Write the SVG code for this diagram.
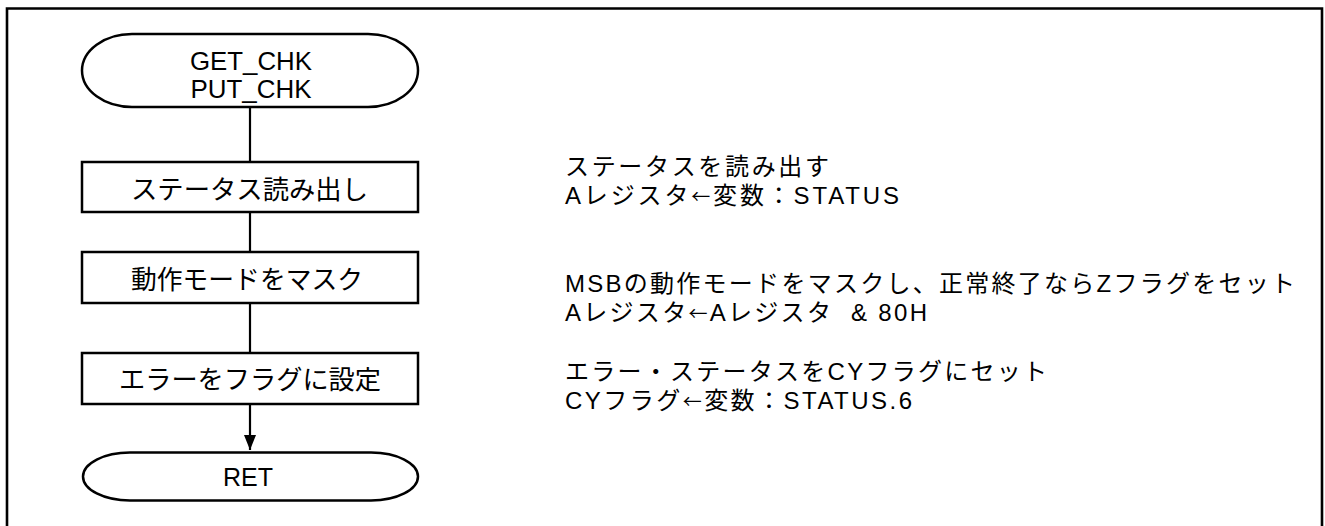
<svg xmlns="http://www.w3.org/2000/svg" width="1325" height="526" viewBox="0 0 1325 526">
<style>
.shape{fill:#fff;stroke:#000;stroke-width:2.5}
.conn{fill:none;stroke:#000;stroke-width:2.2}
.lat{font-family:"Liberation Sans",Arial,"Noto Sans CJK JP",sans-serif;font-size:25px;fill:#000}
.lbl{font-family:"Noto Sans CJK JP","Liberation Sans",sans-serif;font-size:26px;fill:#000}
.note{font-family:"Liberation Sans",Arial,"Noto Sans CJK JP",sans-serif;font-size:24px;fill:#000}
.cjk{font-family:"Noto Sans CJK JP",sans-serif;font-size:19px}
</style>
<defs>
<marker id="arrow" markerWidth="16" markerHeight="12" refX="15" refY="6" orient="auto" markerUnits="userSpaceOnUse">
<path d="M0,0 L15,6 L0,12 Z" fill="#000"/>
</marker>
</defs>
<rect x="0" y="0" width="1325" height="526" fill="#fff"/>
<path d="M7,530 V8.5 H1322 V530" fill="none" stroke="#000" stroke-width="2.6"/>
<g id="connectors">
<line class="conn" x1="250" y1="107" x2="250" y2="162"/>
<line class="conn" x1="250" y1="212" x2="250" y2="252"/>
<line class="conn" x1="250" y1="303" x2="250" y2="353"/>
<line class="conn" x1="250" y1="404" x2="250" y2="450" marker-end="url(#arrow)"/>
</g>
<g id="start">
<path class="shape" d="M132,34 H368 A50,36.5 0 0 1 368,107 H132 A50,36.5 0 0 1 132,34 Z"/>
<text class="lat" text-anchor="middle"><tspan x="251" y="69.5" textLength="122" lengthAdjust="spacingAndGlyphs">GET_CHK</tspan><tspan x="251" y="97.5" textLength="121" lengthAdjust="spacingAndGlyphs">PUT_CHK</tspan></text>
</g>
<g id="read">
<rect class="shape" x="82" y="162" width="336" height="50"/>
<text class="lbl" x="131" y="198.5" textLength="237" lengthAdjust="spacingAndGlyphs">ステータス読み出し</text>
</g>
<g id="mask">
<rect class="shape" x="82" y="252" width="336" height="51"/>
<text class="lbl" x="131" y="288.5" textLength="232" lengthAdjust="spacingAndGlyphs">動作モードをマスク</text>
</g>
<g id="flag">
<rect class="shape" x="82" y="353" width="336" height="51"/>
<text class="lbl" x="119" y="388.5" textLength="262" lengthAdjust="spacingAndGlyphs">エラーをフラグに設定</text>
</g>
<g id="ret">
<path class="shape" d="M130,452.5 H371 A47,24 0 0 1 371,500.5 H130 A47,24 0 0 1 130,452.5 Z"/>
<text class="lat" x="248" y="486" text-anchor="middle">RET</text>
</g>
<g id="notes">
<text class="note"><tspan x="565" y="174.5" textLength="264" lengthAdjust="spacing">ステータスを読み出す</tspan><tspan x="565" y="203.5" textLength="334" lengthAdjust="spacing">Aレジスタ<tspan class="cjk">←</tspan>変数：STATUS</tspan></text>
<text class="note" xml:space="preserve"><tspan x="565" y="291.5" textLength="730" lengthAdjust="spacing">MSBの動作モードをマスクし、正常終了ならZフラグをセット</tspan><tspan x="565" y="320.5" textLength="362" lengthAdjust="spacing">Aレジスタ<tspan class="cjk">←</tspan>Aレジスタ  &amp; 80H</tspan></text>
<text class="note"><tspan x="565" y="379.5" textLength="482" lengthAdjust="spacing">エラー・ステータスをCYフラグにセット</tspan><tspan x="565" y="408.5" textLength="347" lengthAdjust="spacing">CYフラグ<tspan class="cjk">←</tspan>変数：STATUS.6</tspan></text>
</g>
</svg>
